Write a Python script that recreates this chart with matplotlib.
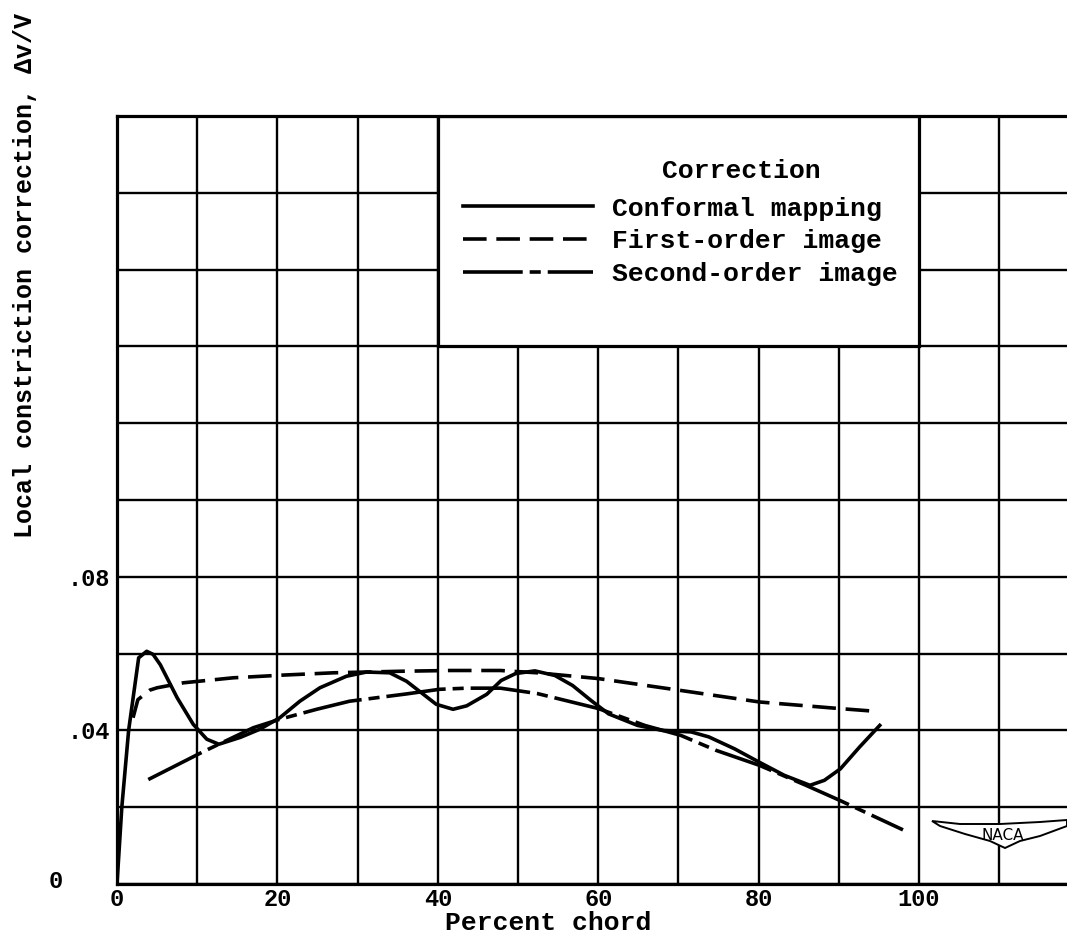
import numpy as np
import matplotlib
matplotlib.use('Agg')
import matplotlib.pyplot as plt
from matplotlib.patches import Rectangle, Polygon

plt.rcParams['font.family'] = ['Liberation Mono', 'DejaVu Sans Mono']
plt.rcParams['font.weight'] = 'bold'
plt.rcParams['axes.labelweight'] = 'bold'
plt.rcParams['lines.scale_dashes'] = False

# values (percent chord, dv/V)
conf_x = [0, 0.6, 1.45, 2.7, 3.7, 4.5, 5.4, 7.5, 9.5, 11.2, 12.7, 15.4, 17.8, 20.3, 22.8,
          25.3, 28.6, 31.1, 34.0, 36.1, 38.2, 39.8, 41.9, 43.6, 46.1, 47.9, 49.7, 52.1,
          54.6, 56.8, 59.1, 61.3, 64.9, 68.0, 71.6, 73.8, 77.0, 80.1, 83.2, 86.4, 88.2,
          90.2, 92.6, 95.1]
conf_y = [0, 0.020, 0.040, 0.0589, 0.0606, 0.0598, 0.0571, 0.0485, 0.0416, 0.0377, 0.0364,
          0.0382, 0.0403, 0.0433, 0.0476, 0.0511, 0.0541, 0.0552, 0.0550, 0.0528, 0.0494,
          0.0468, 0.0455, 0.0464, 0.0494, 0.0530, 0.0548, 0.0555, 0.0543, 0.0517, 0.0478,
          0.0443, 0.0413, 0.0400, 0.0396, 0.0383, 0.0352, 0.0317, 0.0283, 0.0257, 0.0270,
          0.0300, 0.0357, 0.0413]

first_x = [2.0, 2.6, 4.1, 5.0, 8.3, 14.5, 20.7, 27.0, 35.3, 41.5, 47.8, 52.4, 60.0, 70.3,
           80.1, 90.0, 94.4]
first_y = [0.0433, 0.048, 0.0505, 0.0511, 0.0524, 0.0537, 0.0544, 0.0550, 0.0554, 0.0556,
           0.0556, 0.0550, 0.0535, 0.0504, 0.0474, 0.0457, 0.0450]

second_x = [3.9, 10.6, 17.0, 20.3, 24.9, 29.0, 36.1, 40.2, 43.6, 47.8, 52.4, 60.0, 65.8,
            70.3, 74.7, 80.1, 85.9, 90.2, 98.0]
second_y = [0.0272, 0.0343, 0.0407, 0.0429, 0.0455, 0.0476, 0.0495, 0.0507, 0.0510, 0.0510,
            0.0496, 0.0457, 0.0413, 0.0387, 0.0348, 0.0309, 0.0257, 0.0217, 0.0141]

labels = ['Conformal mapping', 'First-order image', 'Second-order image']
x_ticks = [0, 20, 40, 60, 80, 100]
y_ticks = [0.04, 0.08]
y_ticklabels = ['.04', '.08']

W, H = 1067, 938
fig = plt.figure(figsize=(W / 100, H / 100), dpi=100)
ax = fig.add_axes([117 / W, 1 - 884 / H, 1 - 117 / W, (884 - 116) / H])
ax.set_xlim(0, 118.45)
ax.set_ylim(0, 0.2)

# grid
ax.set_xticks(np.arange(0, 111, 10), minor=True)
ax.set_yticks(np.arange(0, 0.201, 0.02), minor=True)
ax.set_xticks(x_ticks)
ax.set_xticklabels([str(v) for v in x_ticks])
ax.set_yticks(y_ticks)
ax.set_yticklabels(y_ticklabels)
ax.set_axisbelow(True)
ax.grid(True, which='both', color='black', linewidth=1.7)
ax.tick_params(which='both', length=0)
ax.tick_params(axis='x', pad=3, labelsize=17)
ax.tick_params(axis='y', pad=5, labelsize=17)
for s in ['left', 'bottom', 'top']:
    ax.spines[s].set_linewidth(2.3)
ax.spines['right'].set_visible(False)

ax.text(-0.065, 0.003, '0', transform=ax.transAxes, fontsize=17,
        ha='center', va='center')

# legend box covering the grid
ax.add_patch(Rectangle((40, 0.14), 60, 0.06, facecolor='white', edgecolor='black',
                       linewidth=2.3, zorder=1.5))

lw = 2.6
l1, = ax.plot(conf_x, conf_y, color='black', linewidth=lw, zorder=3)
l2, = ax.plot(first_x, first_y, color='black', linewidth=lw, zorder=3,
              dashes=(17, 7))
l3, = ax.plot(second_x, second_y, color='black', linewidth=lw, zorder=3,
              dashes=(43, 5, 8, 5))

ax.text(77.9, 0.1857, 'Correction', fontsize=19, ha='center', va='center', zorder=4)
leg = ax.legend([l1, l2, l3], labels, loc='upper left', bbox_to_anchor=(43.2, 0.1790),
                bbox_transform=ax.transData, frameon=False, fontsize=19,
                handlelength=4.9, handletextpad=0.72, labelspacing=0.33,
                borderpad=0, borderaxespad=0)
leg.set_zorder(4)

ax.set_xlabel('Percent chord', fontsize=19, fontweight='bold')
ax.xaxis.label.set_va('center')
ax.xaxis.set_label_coords(0.4537, -0.0508)
ax.set_ylabel('Local constriction correction, \u0394v/V', fontsize=18, fontweight='bold')
ax.yaxis.label.set_va('center')
ax.yaxis.set_label_coords(-0.0968, 0.7917)

# NACA wing badge
def fpt(px, py):
    return (px / W, 1 - py / H)

wing = [fpt(932, 821), fpt(960, 824), fpt(1000, 824), fpt(1040, 822), fpt(1067, 820),
        fpt(1067, 826), fpt(1040, 836), fpt(1020, 841), fpt(1005, 848), fpt(990, 841),
        fpt(965, 834), fpt(940, 826)]
fig.patches.append(Polygon(wing, closed=True, facecolor='white', edgecolor='black',
                           linewidth=1.4, transform=fig.transFigure, zorder=5))
tx, ty = fpt(1003, 835)
fig.text(tx, ty, 'NACA', fontsize=11, family='DejaVu Sans', fontweight='normal',
         ha='center', va='center', zorder=6)

fig.savefig('out.png', dpi=100)
